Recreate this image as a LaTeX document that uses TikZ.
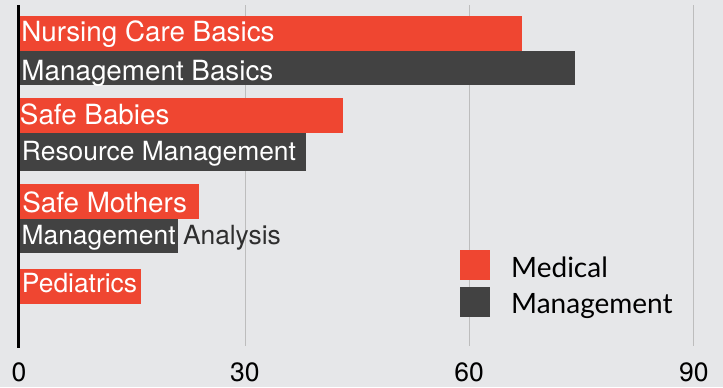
\documentclass[tikz,border=0pt]{standalone}
\usepackage{fontspec}
\setmainfont{TeX Gyre Heros}
\newfontfamily\legendfont{Lato}
\definecolor{medred}{HTML}{EF4631}
\definecolor{mgmt}{HTML}{424242}
\definecolor{bgcol}{HTML}{E6E7E9}
\definecolor{gridcol}{HTML}{BDBDBD}
\definecolor{txtdark}{HTML}{2E2E2E}
\begin{document}
\begin{tikzpicture}[x=1bp,y=-1bp,
  barlabel/.style={anchor=base west, inner sep=0pt, text=white, font=\fontsize{27.8bp}{30bp}\selectfont},
  smalllabel/.style={barlabel, font=\fontsize{26.4bp}{29bp}\selectfont},
  ticklabel/.style={anchor=base, inner sep=0pt, text=black, font=\fontsize{26.5bp}{29bp}\selectfont},
  legendlabel/.style={anchor=base west, inner sep=0pt, text=black, font=\legendfont\fontsize{28bp}{31bp}\selectfont},
  gridline/.style={draw=gridcol, line width=1bp},
  medbar/.style={fill=medred},
  mgmtbar/.style={fill=mgmt}]
\fill[bgcol] (0,0) rectangle (723,387);
\useasboundingbox (0,0) rectangle (723,387);
% grid
\coordinate (g30t) at (245.3,5);   \coordinate (g30b) at (245.3,346);
\coordinate (g60t) at (469.3,5);   \coordinate (g60b) at (469.3,346);
\coordinate (g90t) at (693.3,5);   \coordinate (g90b) at (693.3,346);
\draw[gridline] (g30t) -- (g30b);
\draw[gridline] (g60t) -- (g60b);
\draw[gridline] (g90t) -- (g90b);
% bars
\fill[medbar]  (20,16)    rectangle (522,51);
\fill[mgmtbar] (20,51)    rectangle (575,85);
\fill[medbar]  (20,98.3)  rectangle (343,132.7);
\fill[mgmtbar] (20,132.7) rectangle (306,171);
\fill[medbar]  (20,184.3) rectangle (199,219.3);
\fill[mgmtbar] (20,219.3) rectangle (178,252.7);
\fill[medbar]  (20,269)   rectangle (141,303.5);
% axis
\coordinate (axt) at (18.75,5);
\coordinate (axb) at (18.75,348);
\draw[black, line width=2.6bp] (axt) -- (axb);
% bar labels
\node[barlabel] (l1) at (21.2,41.7) {Nursing Care Basics};
\node[barlabel] (l2) at (21.3,80) {Management Basics};
\node[barlabel] (l3) at (19.8,124.3) {Safe Babies};
\node[smalllabel] (l4) at (21.8,160) {Resource Management};
\node[barlabel] (l5) at (22.1,212.3) {Safe Mothers};
\node[smalllabel] (l6) at (21.4,244.3) {Management \textcolor{txtdark}{Analysis}};
\node[smalllabel] (l7) at (21.8,292.7) {Pediatrics};
% ticks
\node[ticklabel] (t0)  at (19,381.5) {0};
\node[ticklabel] (t30) at (244.8,381.5) {30};
\node[ticklabel] (t60) at (469.2,381.5) {60};
\node[ticklabel] (t90) at (693.8,381.5) {90};
% legend
\fill[medbar]  (460,250)   rectangle (490,280);
\fill[mgmtbar] (460,287.3) rectangle (490,316.7);
\node[legendlabel] (lm) at (511,277) {Medical};
\node[legendlabel] (lg) at (511,313) {Management};
\end{tikzpicture}
\end{document}
